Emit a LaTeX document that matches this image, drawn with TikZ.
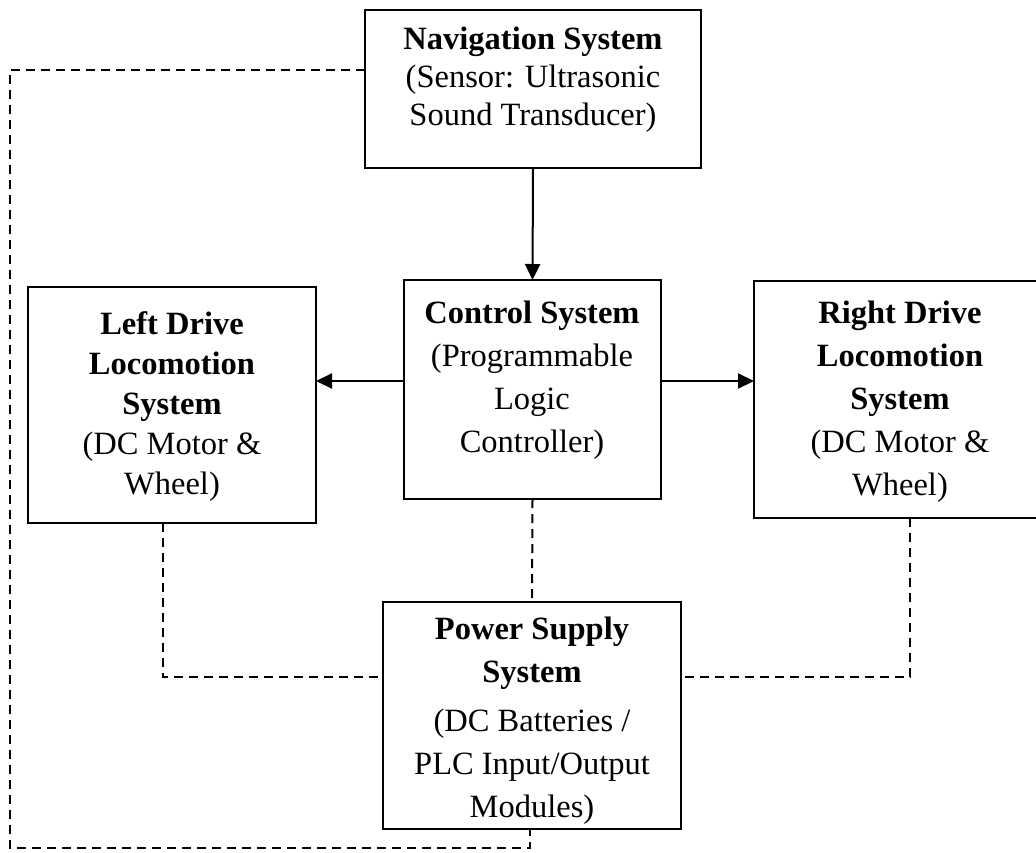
\documentclass[tikz,border=0pt]{standalone}
\usepackage{fontspec}
\setmainfont{Liberation Serif}
\usetikzlibrary{arrows.meta}
\begin{document}
\begin{tikzpicture}[x=0.5pt,y=-0.5pt,
  blk/.style={draw, line width=1.3pt, inner sep=0pt, outer sep=0pt},
  txt/.style={align=center, inner sep=0pt, font=\fontsize{16.25}{21.5}\selectfont},
  arr/.style={line width=1pt, -{Triangle[length=8pt,width=7.5pt]}},
  dashline/.style={line width=1pt, dash pattern=on 4.5pt off 3pt}]

% page
\fill[white] (0,0) rectangle (1036,852);
\useasboundingbox (0,0) rectangle (1036,852);

% blocks
\node[blk, minimum width=168pt,  minimum height=79pt]    (nav)   at (533,89)    {};
\node[blk, minimum width=128.5pt,minimum height=109.5pt] (ctrl)  at (532.5,389.5) {};
\node[blk, minimum width=144pt,  minimum height=118pt]   (left)  at (172,405)   {};
\node[blk, minimum width=146pt,  minimum height=118.5pt] (right) at (900,399.5) {};
\node[blk, minimum width=149pt,  minimum height=113.5pt] (power) at (532,715.5) {};

% block texts
\node[txt, font=\fontsize{16.25}{19}\selectfont] (navtext) at (533,80)
  {\textbf{Navigation System}\\(Sensor: Ultrasonic\\Sound Transducer)};
\node[txt] (ctrltext) at (532,380)
  {\textbf{Control System}\\(Programmable\\Logic\\Controller)};
\node[txt, font=\fontsize{16.25}{20}\selectfont] (lefttext) at (172,407)
  {\textbf{Left Drive}\\\textbf{Locomotion}\\\textbf{System}\\(DC Motor \&\\Wheel)};
\node[txt] (righttext) at (900,402)
  {\textbf{Right Drive}\\\textbf{Locomotion}\\\textbf{System}\\(DC Motor \&\\Wheel)};
\node[txt] (powertext) at (532,721)
  {\textbf{Power Supply}\\\textbf{System}\\[3pt](DC Batteries /\\PLC Input/Output\\Modules)};

% helper coordinates
\coordinate (h70)   at (0,70);
\coordinate (harr)  at (0,381);
\coordinate (hbus)  at (0,677);
\coordinate (loopbl) at (10,848);
\coordinate (pwrx)  at (530,0);
\coordinate (lx)    at (163,0);
\coordinate (rx)    at (910,0);

% signal flow
\draw[arr] (nav.south) -- (ctrl.north);
\draw[arr] (ctrl.west |- harr) -- (left.east |- harr);
\draw[arr] (ctrl.east |- harr) -- (right.west |- harr);

% power wiring
\draw[dashline] (ctrl.south) -- (power.north);
\draw[dashline] (left.south -| lx) |- (power.west |- hbus);
\draw[dashline] (right.south -| rx) |- (power.east |- hbus);
\draw[dashline] (nav.west |- h70) -| (loopbl) -| (power.south -| pwrx);
\end{tikzpicture}
\end{document}
